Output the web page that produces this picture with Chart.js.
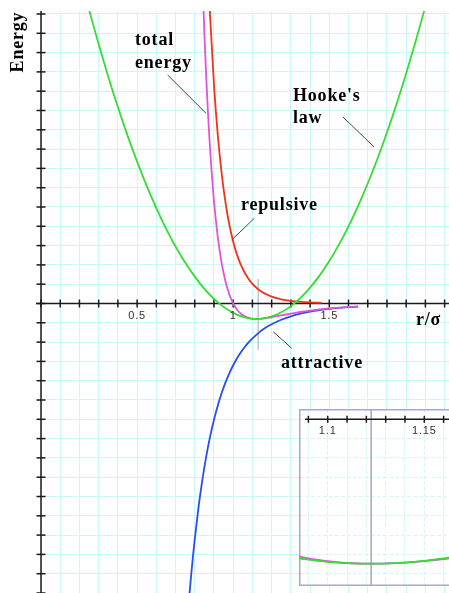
<!DOCTYPE html>
<html>
<head>
<meta charset="utf-8">
<script src="https://cdn.jsdelivr.net/npm/chart.js@4.4.1/dist/chart.umd.min.js"></script>
<style>
  body { margin: 0; background: #fff; }
  #wrap { position: relative; width: 449px; height: 593px; overflow: hidden; }
  #myChart { position: absolute; left: 0; top: 0; }
  #zoomChart { position: absolute; left: 299px; top: 409px; }
</style>
</head>
<body>
<div id="wrap">
  <canvas id="myChart" width="449" height="593"></canvas>
  <canvas id="zoomChart" width="151" height="177"></canvas>
</div>
<script>
// Lennard-Jones pair energy (units of epsilon) against r/sigma

const rAttractive = [0.77, 0.78, 0.79, 0.80, 0.82, 0.84, 0.86, 0.88, 0.90, 0.92, 0.94, 0.96, 0.98, 1.00, 1.02, 1.04, 1.06, 1.08, 1.10, 1.12, 1.14, 1.16, 1.18, 1.20, 1.25, 1.30, 1.35, 1.40, 1.45, 1.50, 1.55, 1.60, 1.65];
const eAttractive = [-19.19, -17.76, -16.45, -15.26, -13.16, -11.39, -9.89, -8.61, -7.53, -6.60, -5.80, -5.11, -4.52, -4.00, -3.55, -3.16, -2.82, -2.52, -2.26, -2.03, -1.82, -1.64, -1.48, -1.34, -1.05, -0.83, -0.66, -0.53, -0.43, -0.35, -0.29, -0.24, -0.20];

const rRepulsive = [0.87, 0.88, 0.90, 0.92, 0.94, 0.96, 0.98, 1.00, 1.02, 1.04, 1.06, 1.08, 1.10, 1.12, 1.14, 1.16, 1.18, 1.20, 1.25, 1.30, 1.35, 1.40, 1.46];
const eRepulsive = [21.27, 18.55, 14.16, 10.88, 8.41, 6.53, 5.10, 4.00, 3.15, 2.50, 1.99, 1.59, 1.27, 1.03, 0.83, 0.67, 0.55, 0.45, 0.27, 0.17, 0.11, 0.07, 0.04];

const rTotal = [0.84, 0.85, 0.86, 0.87, 0.88, 0.90, 0.92, 0.94, 0.96, 0.98, 1.00, 1.02, 1.04, 1.06, 1.08, 1.10, 1.12, 1.14, 1.16, 1.18, 1.20, 1.25, 1.30, 1.35, 1.40, 1.45, 1.50, 1.55, 1.60, 1.65];
const eTotal = [21.03, 17.51, 14.55, 12.05, 9.94, 6.63, 4.28, 2.61, 1.42, 0.58, 0, -0.40, -0.66, -0.83, -0.93, -0.98, -1.00, -0.99, -0.97, -0.93, -0.89, -0.77, -0.66, -0.55, -0.46, -0.38, -0.32, -0.27, -0.22, -0.19];

const rHooke = [0.25, 0.30, 0.35, 0.40, 0.45, 0.50, 0.55, 0.60, 0.65, 0.70, 0.75, 0.80, 0.85, 0.90, 0.95, 1.00, 1.05, 1.10, 1.1225, 1.15, 1.20, 1.25, 1.30, 1.35, 1.40, 1.45, 1.50, 1.55, 1.60, 1.65, 1.70, 1.75, 1.80, 1.85, 1.90, 1.95, 2.00];
const eHooke = [19.02, 16.79, 14.69, 12.73, 10.89, 9.19, 7.62, 6.18, 4.87, 3.69, 2.65, 1.74, 0.95, 0.30, -0.22, -0.61, -0.86, -0.99, -1.00, -0.98, -0.84, -0.57, -0.17, 0.36, 1.03, 1.82, 2.75, 3.81, 5.00, 6.32, 7.77, 9.36, 11.07, 12.92, 14.90, 17.01, 19.25];

// close-up around the well bottom
const rZoom = [1.085, 1.09, 1.095, 1.10, 1.105, 1.11, 1.115, 1.12, 1.125, 1.13, 1.135, 1.14, 1.145, 1.15, 1.155, 1.16, 1.165];
const eZoomTotal = [-0.949, -0.963, -0.974, -0.983, -0.990, -0.995, -0.998, -1.000, -1.000, -0.998, -0.996, -0.992, -0.987, -0.982, -0.975, -0.968, -0.960];
const eZoomHooke = [-0.963, -0.972, -0.980, -0.987, -0.992, -0.996, -0.999, -1.000, -1.000, -0.999, -0.996, -0.992, -0.987, -0.980, -0.972, -0.963, -0.953];

const xTickValues = [0.5, 1, 1.5];
const xTickLabels = ['0.5', '1', '1.5'];
const zoomTickValues = [1.1, 1.15];
const zoomTickLabels = ['1.1', '1.15'];

const wellMarker = 1.13;        // vertical guide in the main plot
const zoomMarker = 1.1225;      // r_min = 2^(1/6)

const GRID = '#c8f8f8';
const AXIS = '#1a1a1a';
const SERIF = 'bold 18px "Liberation Serif", "Times New Roman", serif';
const SANS = '11px "Liberation Sans", Arial, sans-serif';

const pts = (xs, ys) => xs.map((v, i) => ({ x: v, y: ys[i] }));

const curve = (label, xs, ys, color) => ({
    label: label,
    data: pts(xs, ys),
    borderColor: color,
    borderWidth: 1.8,
    showLine: true,
    pointRadius: 0,
    fill: false,
    cubicInterpolationMode: 'monotone'
});

// call-outs: text in pixels, leader ends in data units
const notes = [
    { lines: ['total', 'energy'], px: 135, py: 45, gap: 23, from: [0.659, 14.80], to: [0.8585, 12.32] },
    { lines: ["Hooke's", 'law'], px: 293, py: 101, gap: 22, from: [1.571, 12.08], to: [1.733, 10.14] },
    { lines: ['repulsive'], px: 241, py: 210, gap: 0, from: [1.1098, 5.52], to: [0.9922, 4.11] },
    { lines: ['attractive'], px: 281, py: 368, gap: 0, from: [1.2087, -1.83], to: [1.3044, -2.90] }
];

const seg = (ctx, x1, y1, x2, y2) => {
    ctx.beginPath();
    ctx.moveTo(x1, y1);
    ctx.lineTo(x2, y2);
    ctx.stroke();
};

const mainPlugin = {
    id: 'mainAxes',
    beforeDatasetsDraw(chart) {
        const { ctx, chartArea } = chart;
        const x = chart.scales.x, y = chart.scales.y;
        const x0 = x.getPixelForValue(0), y0 = y.getPixelForValue(0);
        ctx.save();
        ctx.strokeStyle = '#c4c4c4';
        ctx.lineWidth = 1.5;
        const mx = x.getPixelForValue(wellMarker);
        seg(ctx, mx, y.getPixelForValue(1.59), mx, y.getPixelForValue(-3.01));

        ctx.strokeStyle = AXIS;
        ctx.lineWidth = 1.5;
        seg(ctx, x0 - 5, y0, chartArea.right, y0);
        seg(ctx, x0, chartArea.top, x0, chartArea.bottom);
        x.ticks.forEach(t => {
            const px = x.getPixelForValue(t.value);
            seg(ctx, px, y0 - 4, px, y0 + 4);
        });
        y.ticks.forEach(t => {
            const py = y.getPixelForValue(t.value);
            seg(ctx, x0 - 4.5, py, x0 + 4.5, py);
        });
        ctx.restore();
    },
    afterDatasetsDraw(chart) {
        const { ctx } = chart;
        const x = chart.scales.x, y = chart.scales.y;
        const y0 = y.getPixelForValue(0);
        ctx.save();
        ctx.fillStyle = '#333';
        ctx.font = SANS;
        ctx.letterSpacing = '0.8px';
        ctx.textAlign = 'center';
        ctx.textBaseline = 'middle';
        xTickValues.forEach((v, i) => ctx.fillText(xTickLabels[i], x.getPixelForValue(v), y0 + 12));

        ctx.strokeStyle = '#444';
        ctx.lineWidth = 1;
        notes.forEach(n => {
            seg(ctx, x.getPixelForValue(n.from[0]), y.getPixelForValue(n.from[1]),
                x.getPixelForValue(n.to[0]), y.getPixelForValue(n.to[1]));
        });

        ctx.fillStyle = '#000';
        ctx.font = SERIF;
        ctx.textAlign = 'left';
        ctx.textBaseline = 'alphabetic';
        notes.forEach(n => {
            n.lines.forEach((s, i) => ctx.fillText(s, n.px, n.py + i * n.gap));
        });
        ctx.fillText('r/\u03c3', 416, 325);

        // axis title
        ctx.translate(23, 42);
        ctx.rotate(-Math.PI / 2);
        ctx.textAlign = 'center';
        ctx.fillText('Energy', 0, 0);
        ctx.restore();
    }
};

const myChart = new Chart(document.getElementById('myChart').getContext('2d'), {
    type: 'scatter',
    data: {
        datasets: [
            curve("Hooke's law", rHooke, eHooke, '#33dd33'),
            curve('total energy', rTotal, eTotal, '#dd55dd'),
            curve('repulsive', rRepulsive, eRepulsive, '#f4321c'),
            curve('attractive', rAttractive, eAttractive, '#2a4cf0')
        ]
    },
    options: {
        responsive: false,
        animation: false,
        devicePixelRatio: 1,
        events: [],
        layout: { padding: { left: 41, top: 11, right: 0, bottom: 0 } },
        plugins: { legend: { display: false }, tooltip: { enabled: false } },
        scales: {
            x: {
                type: 'linear', min: 0, max: 2.1228,
                ticks: { display: false },
                afterBuildTicks: s => { s.ticks = []; for (let k = 0; k <= 21; k++) s.ticks.push({ value: k / 10 }); },
                grid: { color: GRID, drawTicks: false },
                border: { display: false }
            },
            y: {
                type: 'linear', min: -18.75, max: 18.944,
                ticks: { display: false },
                afterBuildTicks: s => { s.ticks = []; for (let k = -15; k <= 15; k++) s.ticks.push({ value: k * 1.25 }); },
                grid: { color: GRID, drawTicks: false },
                border: { display: false }
            }
        }
    },
    plugins: [mainPlugin]
});

const zoomPlugin = {
    id: 'zoomAxes',
    beforeDraw(chart) {
        const { ctx, width, height } = chart;
        ctx.save();
        ctx.fillStyle = '#fff';
        ctx.fillRect(0, 0, width, height);
        ctx.restore();
    },
    beforeDatasetsDraw(chart) {
        const { ctx, chartArea, width, height } = chart;
        const x = chart.scales.x, y = chart.scales.y;
        const y0 = y.getPixelForValue(0);
        ctx.save();
        ctx.strokeStyle = '#a4a4c4';
        ctx.lineWidth = 1.5;
        const mx = x.getPixelForValue(zoomMarker);
        seg(ctx, mx, chartArea.top, mx, chartArea.bottom);

        ctx.strokeStyle = AXIS;
        ctx.lineWidth = 1.5;
        seg(ctx, 6, y0, chartArea.right, y0);
        x.ticks.forEach(t => {
            const px = x.getPixelForValue(t.value);
            seg(ctx, px, y0 - 3.5, px, y0 + 3.5);
        });

        ctx.fillStyle = '#333';
        ctx.font = SANS;
        ctx.letterSpacing = '0.8px';
        ctx.textAlign = 'center';
        ctx.textBaseline = 'middle';
        zoomTickValues.forEach((v, i) => ctx.fillText(zoomTickLabels[i], x.getPixelForValue(v), y0 + 12));

        ctx.strokeStyle = '#a8a8c8';
        ctx.lineWidth = 1.5;
        ctx.strokeRect(0.75, 0.75, width + 2, height - 1.5);
        ctx.restore();
    }
};

const zoomChart = new Chart(document.getElementById('zoomChart').getContext('2d'), {
    type: 'scatter',
    data: {
        datasets: [
            curve("Hooke's law", rZoom, eZoomHooke, '#33dd33'),
            curve('total energy', rZoom, eZoomTotal, '#dd55dd')
        ]
    },
    options: {
        responsive: false,
        animation: false,
        devicePixelRatio: 1,
        events: [],
        layout: { padding: 0 },
        plugins: { legend: { display: false }, tooltip: { enabled: false } },
        scales: {
            x: {
                type: 'linear', min: 1.08514, max: 1.1633,
                ticks: { display: false },
                afterBuildTicks: s => { s.ticks = []; for (let k = 109; k <= 116; k++) s.ticks.push({ value: k / 100 }); },
                grid: { color: '#d4f6f6', drawTicks: false },
                border: { display: false, dash: [4, 2] }
            },
            y: {
                type: 'linear', min: -1.1544, max: 0.0713,
                ticks: { display: false },
                afterBuildTicks: s => { s.ticks = []; for (let k = -8; k <= 0; k++) s.ticks.push({ value: k * 0.13366 }); },
                grid: { color: '#d4f6f6', drawTicks: false },
                border: { display: false, dash: [4, 2] }
            }
        }
    },
    plugins: [zoomPlugin]
});
</script>
</body>
</html>
